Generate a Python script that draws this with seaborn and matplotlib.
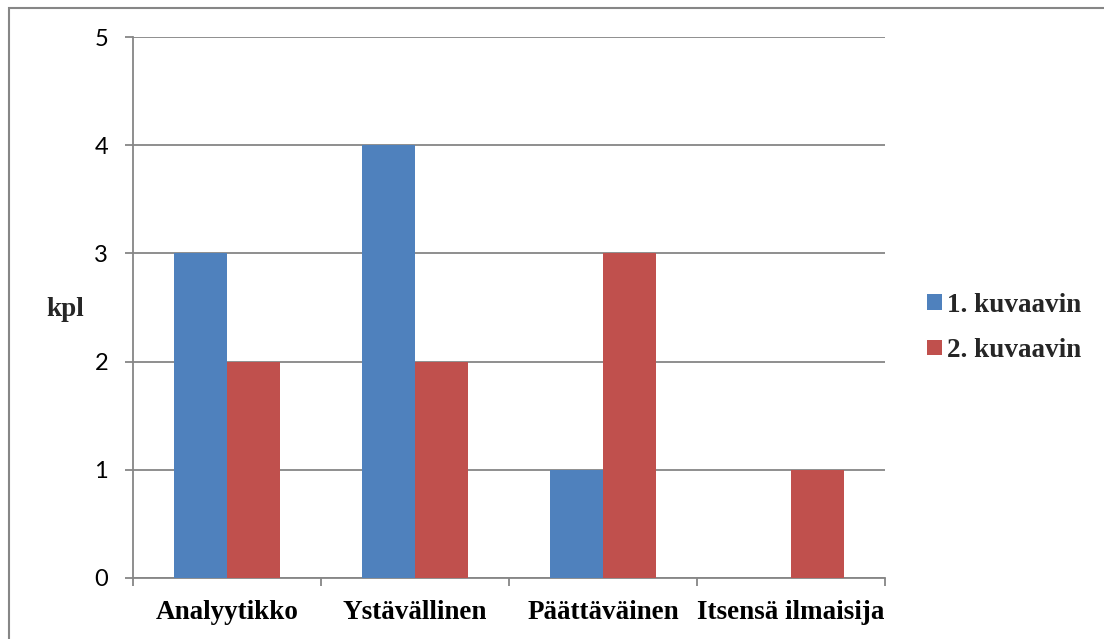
import matplotlib
matplotlib.use("Agg")
import matplotlib.pyplot as plt
from matplotlib.patches import Rectangle, Patch
import seaborn as sns
import pandas as pd

categories = ["Analyytikko", "Ystävällinen", "Päättäväinen", "Itsensä ilmaisija"]
series_names = ["1. kuvaavin", "2. kuvaavin"]
first_values = [3, 4, 1, 0]
second_values = [2, 2, 3, 1]
y_ticks = [0, 1, 2, 3, 4, 5]
y_label = "kpl"

colors = ["#4F81BD", "#C0504D"]
grid_color = "#868686"

df = pd.DataFrame({
    "category": categories * 2,
    "series": [series_names[0]] * len(categories) + [series_names[1]] * len(categories),
    "value": first_values + second_values,
})

sns.set_theme(style="white")
serif = ["Liberation Serif", "DejaVu Serif"]
sans = ["Lato", "DejaVu Sans"]
label_size = 19.5

fig = plt.figure(figsize=(11.04, 6.39), dpi=100)
W, H = 1104, 639
ax = fig.add_axes([133 / W, 1 - 578 / H, (885 - 133) / W, (578 - 37) / H])

sns.barplot(data=df, x="category", y="value", hue="series", order=categories,
            hue_order=series_names, palette=colors, width=0.564, saturation=1,
            linewidth=0, ax=ax, legend=False, zorder=3)

ax.set_xlim(-0.5, len(categories) - 0.5)
ax.set_ylim(0, 5)
ax.set_yticks(y_ticks)
ax.set_yticklabels([str(t) for t in y_ticks], fontfamily=sans, fontsize=17, color="black")
ax.yaxis.grid(True, color=grid_color, linewidth=1.3, zorder=0)
ax.xaxis.grid(False)
ax.set_axisbelow(True)

ax.set_xticks(range(len(categories)))
ax.set_xticklabels(categories, fontfamily=serif, fontweight="bold", fontsize=label_size, color="black")
ax.set_xticks([i - 0.5 for i in range(len(categories) + 1)], minor=True)
ax.tick_params(axis="x", which="major", length=0, pad=16)
ax.tick_params(axis="x", which="minor", length=6, width=1.3, color=grid_color, direction="out", bottom=True)
ax.tick_params(axis="y", which="major", length=6, width=1.3, color=grid_color, direction="out", left=True, pad=12)

for side in ["top", "right"]:
    ax.spines[side].set_visible(False)
for side in ["left", "bottom"]:
    ax.spines[side].set_color(grid_color)
    ax.spines[side].set_linewidth(1.3)

ax.set_xlabel("")
ax.set_ylabel("")
fig.text(65 / W, 1 - 309 / H, y_label, fontfamily=serif, fontweight="bold", fontsize=label_size,
         ha="center", va="center")

handles = [Patch(facecolor=c, edgecolor="none") for c in colors]
leg = fig.legend(handles, series_names, loc="center left", bbox_to_anchor=(922 / W, 1 - 328 / H),
                 frameon=False, prop={"family": serif, "weight": "bold", "size": label_size},
                 handlelength=0.52, handleheight=0.52, handletextpad=0.2, labelspacing=0.75,
                 borderaxespad=0, borderpad=0.2)

fig.patches.append(Rectangle((9 / W, -0.1), 1.2, (1 - 8 / H) + 0.1, transform=fig.transFigure,
                             fill=False, edgecolor=grid_color, linewidth=1.5, clip_on=False))

fig.savefig("out.png", dpi=100)
